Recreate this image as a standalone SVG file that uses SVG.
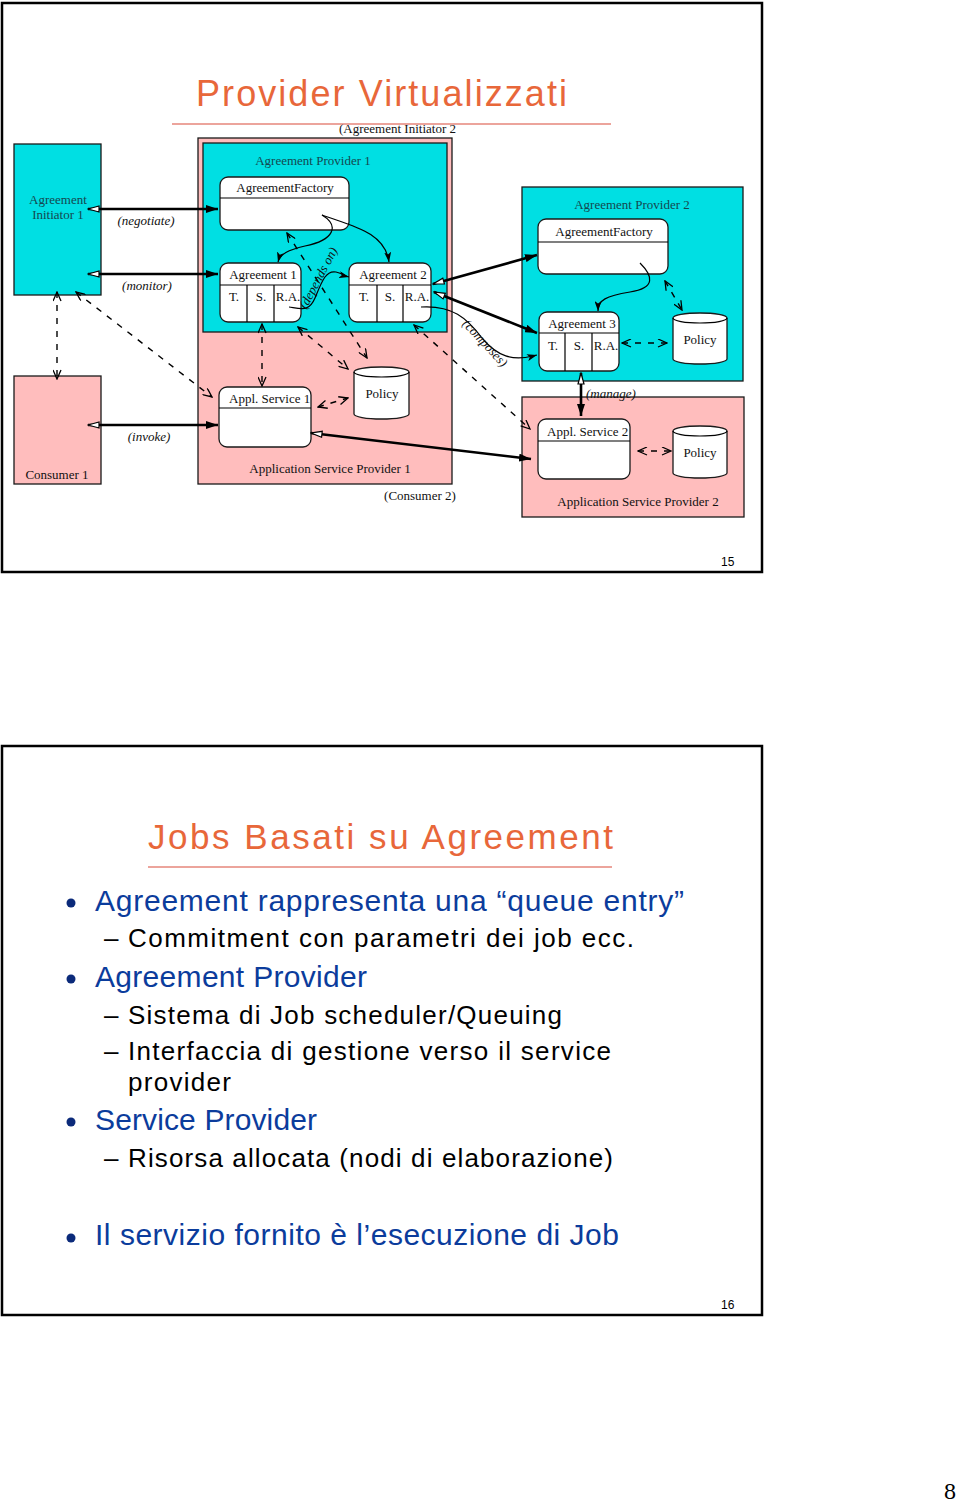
<svg xmlns="http://www.w3.org/2000/svg" width="960" height="1501" viewBox="0 0 960 1501">
<style>
.slide{fill:#fff;stroke:#000;stroke-width:2.5}
.cy{fill:#00dfe3;stroke:#1a1a1a;stroke-width:1.3}
.pk{fill:#ffbdbd;stroke:#1a1a1a;stroke-width:1.3}
.bx{fill:#fff;stroke:#1a1a1a;stroke-width:1.3}
.t{font-family:"Liberation Serif","Times New Roman",serif;font-size:13px;fill:#111}
.tc{fill:#15484f}
.tm{text-anchor:middle}
.it{font-style:italic}
.thick{fill:none;stroke:#000;stroke-width:2.6}
.dash{fill:none;stroke:#000;stroke-width:1.4;stroke-dasharray:6 7}
.thin{fill:none;stroke:#000;stroke-width:1.2}
.title{font-family:"Liberation Sans",Arial,sans-serif;fill:#e8673a}
.b1{font-family:"Liberation Sans",Arial,sans-serif;font-size:30px;fill:#0b3c9c}
.b2{font-family:"Liberation Sans",Arial,sans-serif;font-size:26px;fill:#000}
.pg{font-family:"Liberation Sans",Arial,sans-serif;font-size:12px;fill:#000}
</style>
<defs>
<marker id="af" viewBox="0 0 12 8" refX="12" refY="4" markerWidth="12" markerHeight="8" markerUnits="userSpaceOnUse" orient="auto"><path d="M0,0 L12,4 L0,8 z" fill="#000"/></marker>
<marker id="ao" viewBox="0 0 13 9" refX="12" refY="4.5" markerWidth="13" markerHeight="9" markerUnits="userSpaceOnUse" orient="auto-start-reverse"><path d="M1,1.5 L12,4.5 L1,7.5 z" fill="#fff" stroke="#000" stroke-width="1.2"/></marker>
<marker id="av" viewBox="0 0 11 9" refX="10" refY="4.5" markerWidth="11" markerHeight="9" markerUnits="userSpaceOnUse" orient="auto-start-reverse"><path d="M1,0.5 L10,4.5 L1,8.5" fill="none" stroke="#000" stroke-width="1.3"/></marker>
<marker id="ac" viewBox="0 0 10 7" refX="10" refY="3.5" markerWidth="10" markerHeight="7" markerUnits="userSpaceOnUse" orient="auto"><path d="M0,0 L10,3.5 L0,7 L2.5,3.5 z" fill="#000"/></marker>
</defs>

<rect class="slide" x="2" y="3" width="760" height="569"/>
<rect class="slide" x="2" y="746" width="760" height="569"/>

<!-- Slide 1 -->
<text class="title" x="196" y="106" font-size="36" textLength="371" lengthAdjust="spacing">Provider Virtualizzati</text>
<line x1="172" y1="124" x2="611" y2="124" stroke="#d94a3a" stroke-width="1.2"/>
<text class="t" x="339" y="133">(Agreement Initiator 2</text>

<g id="asp1">
<rect class="pk" x="198" y="138" width="254" height="346"/>
<text class="t tm" x="330" y="473">Application Service Provider 1</text>
</g>
<g id="ap1">
<rect class="cy" x="203" y="143" width="244" height="189"/>
<text class="t tm tc" x="313" y="165">Agreement Provider 1</text>
</g>
<g id="ai1">
<rect class="cy" x="14" y="144" width="87" height="151"/>
<text class="t tm tc" x="58" y="204">Agreement</text>
<text class="t tm tc" x="58" y="219">Initiator 1</text>
</g>
<g id="consumer1">
<rect class="pk" x="14" y="376" width="87" height="108"/>
<text class="t tm" x="57" y="479">Consumer 1</text>
</g>
<g id="af1">
<rect class="bx" x="220" y="177" width="129" height="53" rx="8"/>
<line class="thin" x1="220" y1="198" x2="349" y2="198"/>
<text class="t tm" x="285" y="192">AgreementFactory</text>
</g>
<g id="agr1">
<rect class="bx" x="220" y="263" width="81" height="59" rx="8"/>
<path class="thin" d="M220,285 H301 M247,285 V322 M274,285 V322"/>
<text class="t tm" x="263" y="279">Agreement 1</text>
<text class="t tm" x="234" y="301" font-size="11">T.</text>
<text class="t tm" x="261" y="301" font-size="11">S.</text>
<text class="t tm" x="288" y="301" font-size="11">R.A.</text>
</g>
<g id="agr2">
<rect class="bx" x="349" y="263" width="82" height="59" rx="8"/>
<path class="thin" d="M349,285 H431 M377,285 V322 M403,285 V322"/>
<text class="t tm" x="393" y="279">Agreement 2</text>
<text class="t tm" x="364" y="301" font-size="11">T.</text>
<text class="t tm" x="390" y="301" font-size="11">S.</text>
<text class="t tm" x="417" y="301" font-size="11">R.A.</text>
</g>
<g id="as1">
<rect class="bx" x="219" y="387" width="92" height="60" rx="8"/>
<line class="thin" x1="219" y1="408" x2="311" y2="408"/>
<text class="t" x="229" y="403">Appl. Service 1</text>
</g>
<g id="policy1">
<path class="bx" d="M354,372 V414 A27.5,5 0 0 0 409,414 V372 A27.5,5 0 0 0 354,372 Z"/>
<path class="thin" d="M354,372 A27.5,5 0 0 0 409,372"/>
<text class="t tm" x="382" y="398">Policy</text>
</g>
<text class="t tm" x="420" y="500">(Consumer 2)</text>

<g id="ap2">
<rect class="cy" x="522" y="187" width="221" height="194"/>
<text class="t tm tc" x="632" y="209">Agreement Provider 2</text>
</g>
<g id="af2">
<rect class="bx" x="538" y="219" width="130" height="55" rx="8"/>
<line class="thin" x1="538" y1="242" x2="668" y2="242"/>
<text class="t tm" x="604" y="236">AgreementFactory</text>
</g>
<g id="agr3">
<rect class="bx" x="539" y="312" width="80" height="59" rx="8"/>
<path class="thin" d="M539,333 H619 M565,333 V371 M592,333 V371"/>
<text class="t tm" x="582" y="328">Agreement 3</text>
<text class="t tm" x="553" y="350" font-size="11">T.</text>
<text class="t tm" x="579" y="350" font-size="11">S.</text>
<text class="t tm" x="606" y="350" font-size="11">R.A.</text>
</g>
<g id="policy2">
<path class="bx" d="M673,318 V359 A27,5 0 0 0 727,359 V318 A27,5 0 0 0 673,318 Z"/>
<path class="thin" d="M673,318 A27,5 0 0 0 727,318"/>
<text class="t tm" x="700" y="344">Policy</text>
</g>
<g id="asp2">
<rect class="pk" x="522" y="397" width="222" height="120"/>
<text class="t tm" x="638" y="506">Application Service Provider 2</text>
</g>
<g id="as2">
<rect class="bx" x="538" y="419" width="92" height="60" rx="8"/>
<line class="thin" x1="538" y1="441" x2="630" y2="441"/>
<text class="t" x="547" y="436">Appl. Service 2</text>
</g>
<g id="policy3">
<path class="bx" d="M673,431 V473 A27,5 0 0 0 727,473 V431 A27,5 0 0 0 673,431 Z"/>
<path class="thin" d="M673,431 A27,5 0 0 0 727,431"/>
<text class="t tm" x="700" y="457">Policy</text>
</g>

<g id="connectors">
<path class="thick" d="M88,209 H218" marker-start="url(#ao)" marker-end="url(#af)"/>
<path class="thick" d="M88,274 H218" marker-start="url(#ao)" marker-end="url(#af)"/>
<path class="thick" d="M88,425 H218" marker-start="url(#ao)" marker-end="url(#af)"/>
<path class="thick" d="M433,284 L537,255" marker-start="url(#ao)" marker-end="url(#af)"/>
<path class="thick" d="M434,292 L537,333" marker-start="url(#ao)" marker-end="url(#af)"/>
<path class="thick" d="M311,433 L531,459" marker-start="url(#ao)" marker-end="url(#af)"/>
<path class="thick" d="M581,373 V416" marker-start="url(#ao)" marker-end="url(#af)"/>

<path class="dash" d="M57,292 V379" marker-start="url(#av)" marker-end="url(#av)"/>
<path class="dash" d="M76,292 L212,397" marker-start="url(#av)" marker-end="url(#av)"/>
<path class="dash" d="M262,324 V386" marker-start="url(#av)" marker-end="url(#av)"/>
<path class="dash" d="M298,327 L348,369" marker-start="url(#av)" marker-end="url(#av)"/>
<path class="dash" d="M287,233 L367,358" marker-start="url(#av)" marker-end="url(#av)"/>
<path class="dash" d="M318,407 L348,398" marker-start="url(#av)" marker-end="url(#av)"/>
<path class="dash" d="M414,325 L530,429" marker-start="url(#av)" marker-end="url(#av)"/>
<path class="dash" d="M622,343 H667" marker-start="url(#av)" marker-end="url(#av)"/>
<path class="dash" d="M665,281 L682,310" marker-start="url(#av)" marker-end="url(#av)"/>
<path class="dash" d="M638,451 H671" marker-start="url(#av)" marker-end="url(#av)"/>

<path class="thin" d="M322,215 C340,226 334,240 305,246 C288,250 280,254 278,262" marker-end="url(#ac)"/>
<path class="thin" d="M322,215 C352,226 385,232 389,262" marker-end="url(#ac)"/>
<path class="thin" d="M289,307 C302,309 309,312 315,298 C322,281 326,270 336,272 C341,273 345,276 349,277" marker-end="url(#ac)"/>
<path class="thin" d="M421,307 C452,305 467,318 482,338 C497,356 512,362 537,355" marker-end="url(#ac)"/>
<path class="thin" d="M640,263 C653,276 656,288 630,292 C606,296 598,300 598,311" marker-end="url(#ac)"/>

<text class="t tm it" x="146" y="225">(negotiate)</text>
<text class="t tm it" x="147" y="290">(monitor)</text>
<text class="t tm it" x="149" y="441">(invoke)</text>
<text class="t it" x="586" y="398">(manage)</text>
<text class="t tm it" font-size="14" transform="translate(322,280) rotate(-62)">(depends on)</text>
<text class="t tm it" font-size="14" transform="translate(482,346) rotate(47)">(composes)</text>
</g>
<text class="pg" x="721" y="566">15</text>

<!-- Slide 2 -->
<text class="title" x="148" y="849" font-size="35" textLength="465" lengthAdjust="spacing">Jobs Basati su Agreement</text>
<line x1="148" y1="867" x2="612" y2="867" stroke="#d94a3a" stroke-width="1.2"/>

<circle cx="71" cy="903" r="4.5" fill="#0b2a7a"/>
<text class="b1" x="95" y="911" textLength="589" lengthAdjust="spacing">Agreement rappresenta una “queue entry”</text>
<text class="b2" x="104" y="947">–</text>
<text class="b2" x="128" y="947" textLength="506" lengthAdjust="spacing">Commitment con parametri dei job ecc.</text>

<circle cx="71" cy="979" r="4.5" fill="#0b2a7a"/>
<text class="b1" x="95" y="987" textLength="272" lengthAdjust="spacing">Agreement Provider</text>
<text class="b2" x="104" y="1024">–</text>
<text class="b2" x="128" y="1024" textLength="434" lengthAdjust="spacing">Sistema di Job scheduler/Queuing</text>
<text class="b2" x="104" y="1060">–</text>
<text class="b2" x="128" y="1060" textLength="483" lengthAdjust="spacing">Interfaccia di gestione verso il service</text>
<text class="b2" x="128" y="1091" textLength="103" lengthAdjust="spacing">provider</text>

<circle cx="71" cy="1122" r="4.5" fill="#0b2a7a"/>
<text class="b1" x="95" y="1130" textLength="222" lengthAdjust="spacing">Service Provider</text>
<text class="b2" x="104" y="1167">–</text>
<text class="b2" x="128" y="1167" textLength="485" lengthAdjust="spacing">Risorsa allocata (nodi di elaborazione)</text>

<circle cx="71" cy="1238" r="4.5" fill="#0b2a7a"/>
<text class="b1" x="95" y="1245" textLength="524" lengthAdjust="spacing">Il servizio fornito è l’esecuzione di Job</text>
<text class="pg" x="721" y="1309">16</text>

<text x="944" y="1499" font-family="Liberation Serif,serif" font-size="24" fill="#000">8</text>
</svg>
